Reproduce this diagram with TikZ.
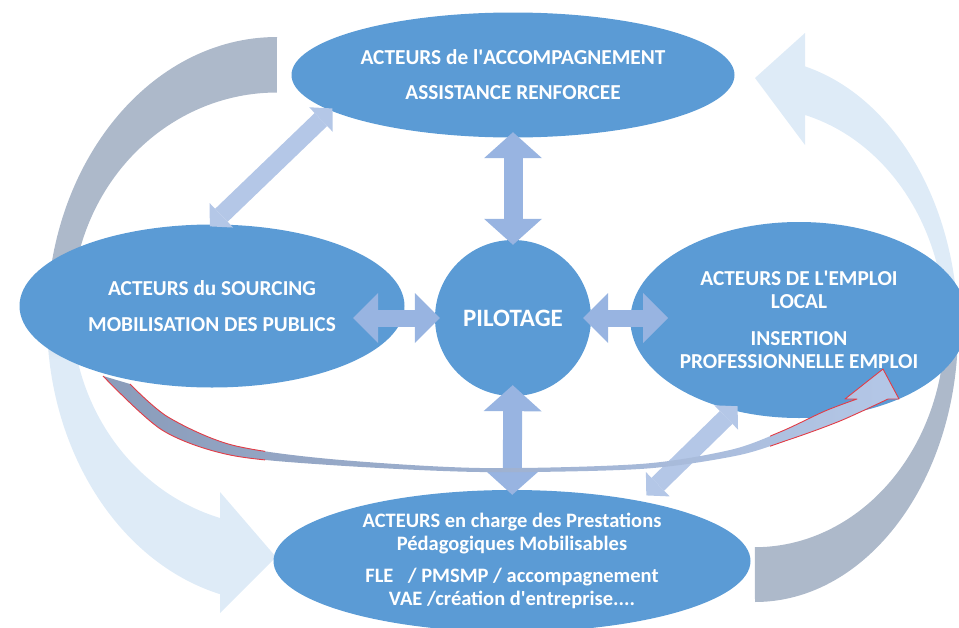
\documentclass[tikz,border=0pt]{standalone}
\usepackage{fontspec}
\setmainfont{Carlito}
\usetikzlibrary{arrows.meta,shapes.geometric,calc}

\definecolor{nodeblue}{RGB}{91,155,213}
\definecolor{linkblue}{RGB}{152,180,225}
\definecolor{diagblue}{RGB}{180,199,231}
\definecolor{bandgray}{RGB}{173,185,202}
\definecolor{bandlight}{RGB}{222,235,247}
\definecolor{thingray}{RGB}{138,156,186}
\definecolor{thinred}{RGB}{226,60,70}

\pgfdeclareverticalshading{leftband}{100bp}{color(0bp)=(bandlight); color(47bp)=(bandlight); color(55bp)=(bandgray); color(100bp)=(bandgray)}
\pgfdeclareverticalshading{rightband}{100bp}{color(0bp)=(bandgray); color(46bp)=(bandgray); color(53bp)=(bandlight); color(100bp)=(bandlight)}

\tikzset{
  actor/.style={ellipse, fill=nodeblue, text=white, inner sep=0pt, align=center,
    font=\fontsize{21.3}{23}\selectfont\bfseries},
  vlink/.style={line width=19pt, draw=linkblue,
    {Triangle[width=58pt,length=26pt,line width=0pt]}-{Triangle[width=58pt,length=26pt,line width=0pt]}},
  hlink/.style={line width=17pt, draw=linkblue,
    {Triangle[width=50pt,length=25pt,line width=0pt]}-{Triangle[width=50pt,length=25pt,line width=0pt]}},
  dlink/.style={line width=18pt, draw=diagblue,
    {Triangle[width=34pt,length=16pt,line width=0pt]}-{Triangle[width=34pt,length=16pt,line width=0pt]}},
}

\begin{document}
\begin{tikzpicture}[x=1pt,y=-1pt]
\useasboundingbox (0,0) rectangle (959,627);

% big return arrows
\shade[shading=leftband] (277,37) arc[start angle=270, end angle=104.3, x radius=230, y radius=283]
  -- (220,613) -- (276,557) -- (220,492) -- (220,518)
  arc[start angle=106.1, end angle=270, x radius=205, y radius=217] -- cycle;
\shade[shading=rightband] (755,602) arc[start angle=90, end angle=-75.7, x radius=203, y radius=272]
  -- (805,33) -- (755,78) -- (805,145) -- (805,115)
  arc[start angle=-74.7, end angle=90, x radius=190, y radius=220] -- cycle;

\node[actor, minimum width=443, minimum height=125] (acc) at (513,75)
  {ACTEURS de l\textquotesingle ACCOMPAGNEMENT\\[12pt]ASSISTANCE RENFORCEE};
\node[actor, minimum width=385, minimum height=163] (src) at (212,306)
  {ACTEURS du SOURCING\\[13pt]MOBILISATION DES PUBLICS};
\node[actor, minimum width=334, minimum height=196] (emp) at (799,320)
  {ACTEURS DE L\textquotesingle EMPLOI\\LOCAL\\[14pt]INSERTION\\PROFESSIONNELLE EMPLOI};
\node[actor, minimum width=477, minimum height=142, font=\fontsize{20.5}{23}\selectfont\bfseries] (pre) at (512,561)
  {ACTEURS en charge des Prestations\\Pédagogiques Mobilisables\\[9pt]FLE\hspace{0.7em}/ PMSMP / accompagnement\\VAE /création d\textquotesingle entreprise....};
\node[circle, fill=nodeblue, text=white, minimum size=156, inner sep=0pt,
  font=\fontsize{25}{29}\selectfont\bfseries] (pil) at (513,318) {PILOTAGE};

\draw[vlink, shorten <=-5.5pt, shorten >=-5pt] (acc) -- (pil);
\draw[vlink, shorten <=-11pt, shorten >=-5pt] (pil) -- (pre);
\draw[hlink, shorten <=-5pt, shorten >=-51.5pt] (pil.west) -- (pil.west -| src.east);
\draw[hlink, shorten <=-8pt, shorten >=-38pt] (pil.east) -- (pil.east -| emp.west);
\draw[dlink, shorten <=-3pt, shorten >=-3pt] (acc.191) -- (src.north);
\draw[dlink, shorten <=-6pt, shorten >=8pt] (emp.234) -- (pre.25);

% thin curved arrow
\shade[left color=thingray, right color=diagblue]
  plot[smooth] coordinates {(130,384) (168,417) (232,445) (330,459) (480,468) (640,464) (730,450) (780,432) (825,411) (857,399)}
  -- (845,399) -- (883,369) -- (899,399) -- (888,399)
  -- plot[smooth] coordinates {(888,399) (840,421) (788,440) (735,456) (640,469) (480,472) (330,465) (230,455) (162,430) (103,376)}
  -- cycle;
\begin{scope}
\clip (0,0) rectangle (265,627) (770,0) rectangle (959,627);
\draw[thinred, line width=0.9pt, line join=round]
  plot[smooth] coordinates {(130,384) (168,417) (232,445) (330,459) (480,468) (640,464) (730,450) (780,432) (825,411) (857,399)}
  -- (845,399) -- (883,369) -- (899,399) -- (888,399)
  -- plot[smooth] coordinates {(888,399) (840,421) (788,440) (735,456) (640,469) (480,472) (330,465) (230,455) (162,430) (103,376)};
\end{scope}
\end{tikzpicture}
\end{document}
